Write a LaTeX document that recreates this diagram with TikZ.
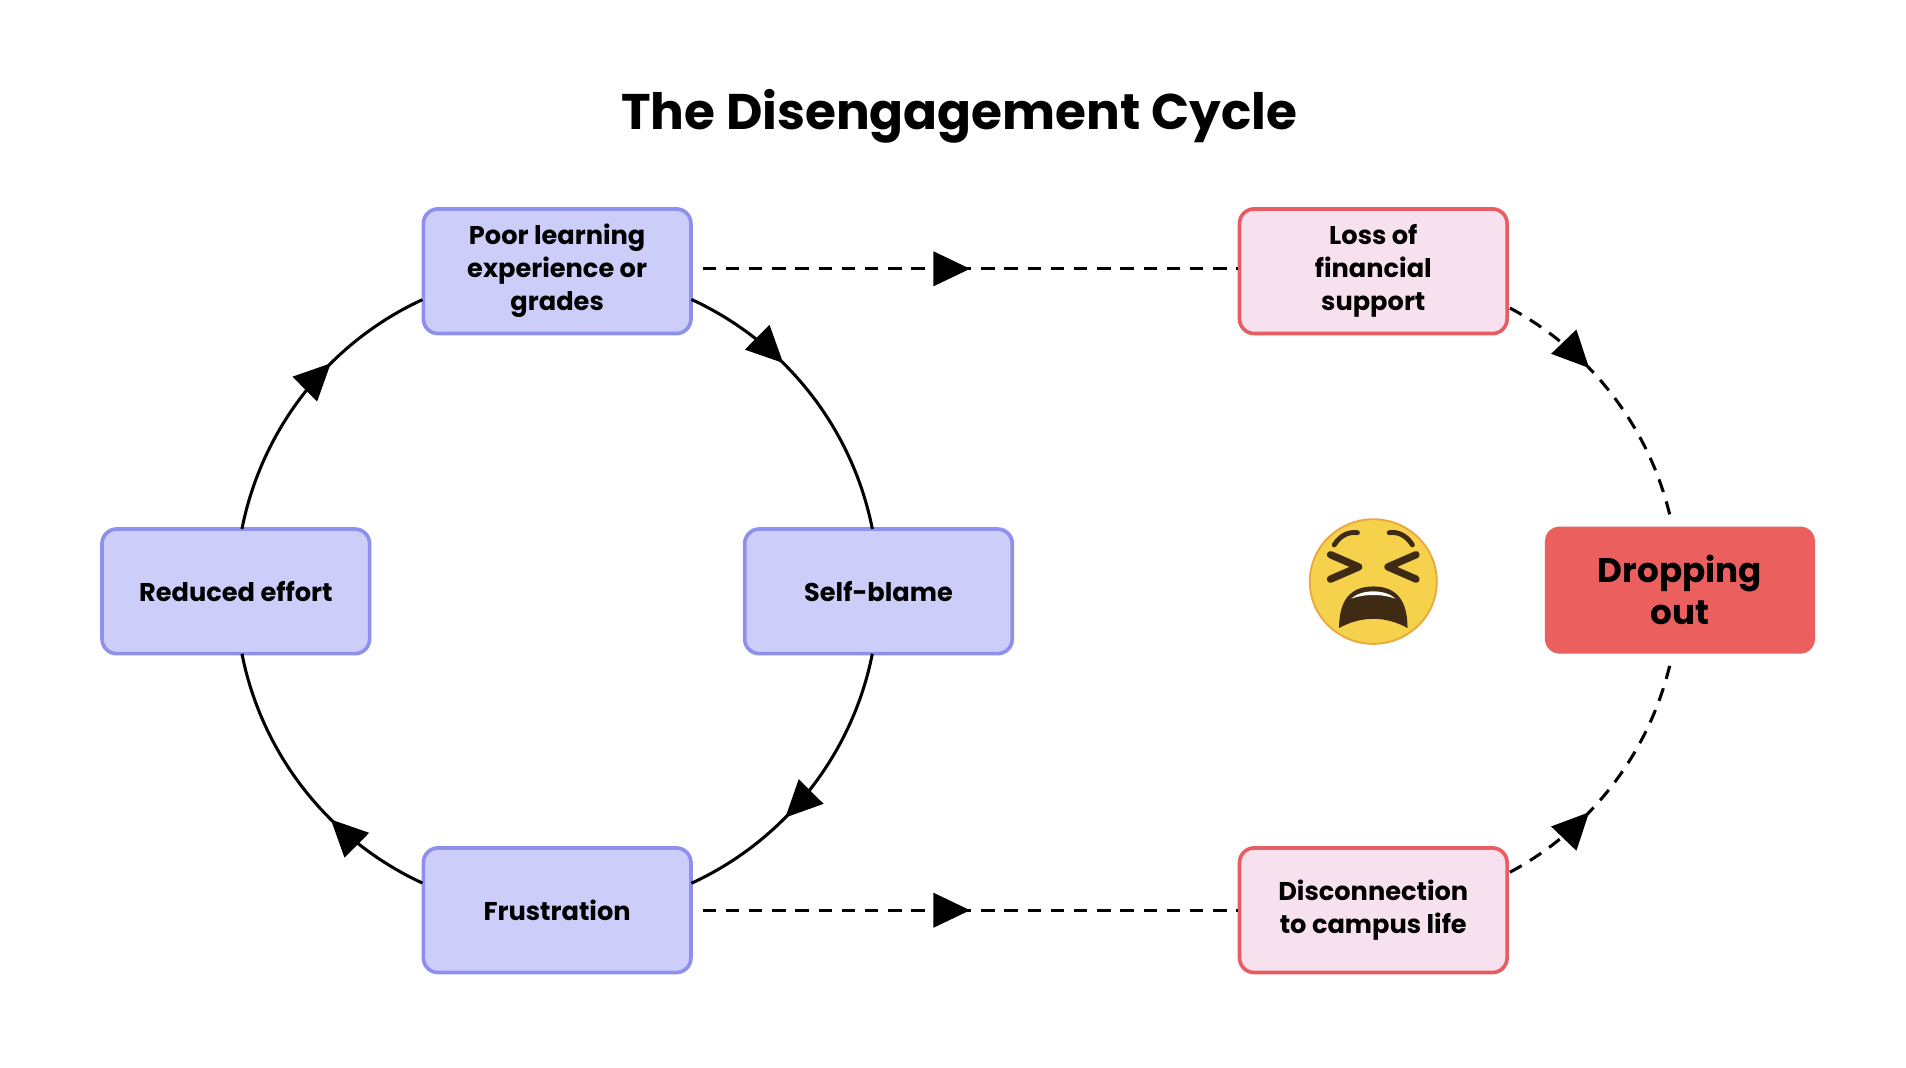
\documentclass[tikz,border=0pt]{standalone}
\usepackage{fontspec}
\setmainfont{Poppins}
\usetikzlibrary{arrows.meta,decorations.markings}
\definecolor{cycfill}{HTML}{CDCDF9}
\definecolor{cycdraw}{HTML}{8F8FEE}
\definecolor{lossfill}{HTML}{F8E1EE}
\definecolor{lossdraw}{HTML}{E85D62}
\definecolor{dropfill}{HTML}{EB5F5F}
\definecolor{faceyellow}{HTML}{F6D24C}
\definecolor{faceedge}{HTML}{E9A73C}
\definecolor{facedark}{HTML}{3F2A14}

\begin{document}
\begin{tikzpicture}[x=1pt,y=1pt,yscale=-1,
  box/.style={draw=cycdraw,fill=cycfill,line width=3pt,rounded corners=12pt,
    minimum width=219pt,minimum height=102pt,align=center,
    font=\fontsize{21}{27}\selectfont\bfseries},
  lossbox/.style={box,draw=lossdraw,fill=lossfill},
  dropbox/.style={box,draw=none,fill=dropfill,minimum width=221pt,minimum height=104pt,
    font=\fontsize{28}{34}\selectfont\bfseries},
  midtip/.style={postaction={decorate},decoration={markings,
    mark=at position #1 with {\arrow[solid]{Triangle[length=30pt,width=28pt]}}}},
  cyc/.style={line width=2.5pt,midtip=#1},
  lapse/.style={line width=2.5pt,midtip=#1,dash pattern=on 11pt off 8pt}]
\useasboundingbox (0,0) rectangle (1560,874);

% title
\node (title) at (785,95) {\fontsize{41}{48}\selectfont\bfseries The Disengagement Cycle};

% cycle boxes
\node[box] (poor) at (456,222) {Poor learning\\experience or\\grades};
\node[box] (blame) at (719,484) {Self-blame};
\node[box] (frus) at (456,745) {Frustration};
\node[box] (effort) at (193,484) {Reduced effort};

% consequence boxes
\node[lossbox] (loss) at (1124,222) {Loss of\\financial\\support};
\node[lossbox] (disc) at (1124,745) {Disconnection\\to campus life};
\node[dropbox] (drop) at (1375,483) {Dropping\\out};

% cycle arcs
\coordinate (cc) at (456,484);
\draw[cyc=0.37] (cc) ++(-65.3:263) arc[start angle=-65.3,end angle=-11.2,radius=263];
\draw[cyc=0.62] (cc) ++(11.2:263) arc[start angle=11.2,end angle=65.3,radius=263];
\draw[cyc=0.37] (cc) ++(114.8:263) arc[start angle=114.8,end angle=168.8,radius=263];
\draw[cyc=0.63] (cc) ++(-168.8:263) arc[start angle=-168.8,end angle=-114.8,radius=263];

% dashed links
\draw[lapse=0.5] (poor.east) ++(8,-2) -- (loss.west |- 0,220);
\draw[lapse=0.5] (frus.east) ++(8,0) -- (disc.west);
\coordinate (dc) at (1112,483);
\draw[lapse=0.37] (dc) ++(-61.8:262) arc[start angle=-61.8,end angle=-13.5,radius=262];
\draw[lapse=0.37] (dc) ++(61.8:262) arc[start angle=61.8,end angle=13.5,radius=262];

% emoji
\begin{scope}[shift={(1124,476)}]
\fill[faceyellow,draw=faceedge,line width=1.5pt] (0,0) ellipse[x radius=52,y radius=51];
\draw[facedark,line width=4pt,line cap=round] (-32,-30) .. controls (-27,-38) and (-20,-41) .. (-13,-40);
\draw[facedark,line width=4pt,line cap=round] (32,-30) .. controls (27,-38) and (20,-41) .. (13,-40);
\draw[facedark,line width=6pt,line cap=round,line join=round] (-35,-22) -- (-12,-12) -- (-35,-2);
\draw[facedark,line width=6pt,line cap=round,line join=round] (35,-22) -- (12,-12) -- (35,-2);
\fill[facedark] (-28,38) .. controls (-28,10) and (-14,4) .. (0,4) .. controls (14,4) and (28,10) .. (28,38) .. controls (10,28) and (-10,28) .. (-28,38) -- cycle;
\fill[white] (-18,14) .. controls (-10,6) and (10,6) .. (18,14) .. controls (8,10) and (-8,10) .. (-18,14) -- cycle;
\end{scope}
\end{tikzpicture}
\end{document}
